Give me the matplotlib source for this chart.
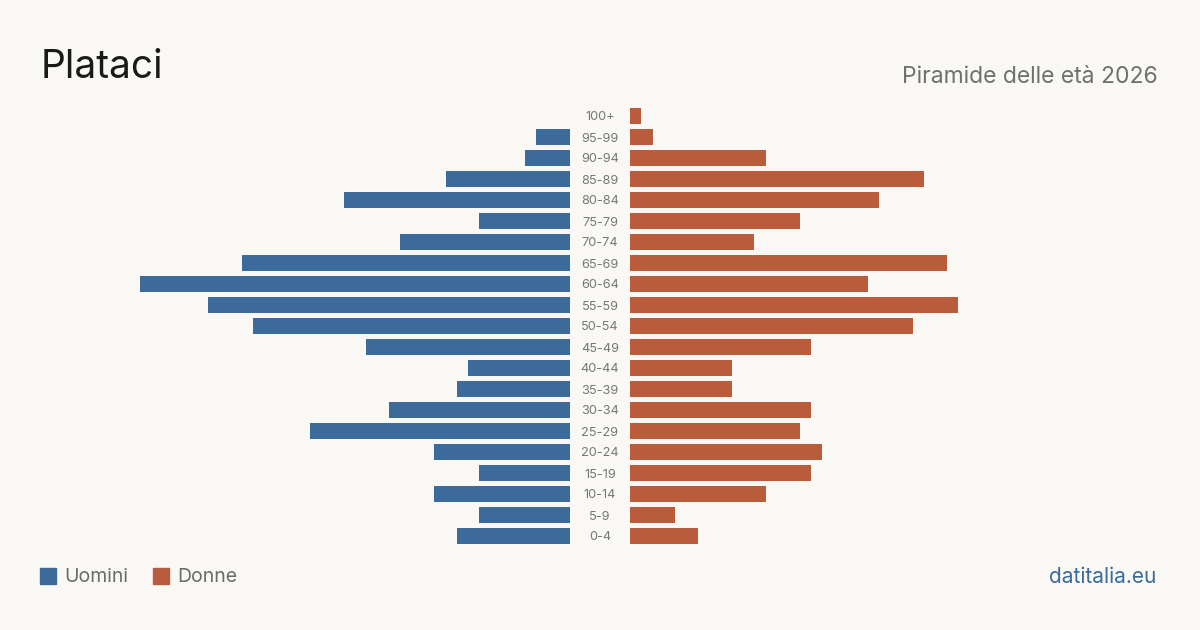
import matplotlib
matplotlib.use("Agg")
import matplotlib.pyplot as plt
from matplotlib.patches import Rectangle

plt.rcParams["font.family"] = ["Inter", "DejaVu Sans"]

# data: Plataci, population pyramid 2026
age_groups = ["0-4", "5-9", "10-14", "15-19", "20-24", "25-29", "30-34",
              "35-39", "40-44", "45-49", "50-54", "55-59", "60-64", "65-69",
              "70-74", "75-79", "80-84", "85-89", "90-94", "95-99", "100+"]
men = [10, 8, 12, 8, 12, 23, 16, 10, 9, 18, 28, 32, 38, 29, 15, 8, 20, 11, 4, 3, 0]
women = [6, 4, 12, 16, 17, 15, 16, 9, 9, 16, 25, 29, 21, 28, 11, 15, 22, 26, 12, 2, 1]

BLUE = "#3b6a9b"
ORANGE = "#b95c3c"
BG = "#f9f8f4"
W, H = 1200, 630

fig = plt.figure(figsize=(12, 6.3), dpi=100, facecolor=BG)

scale = 430 / 38.0          # pixels per person
xmax = 38
top, bottom = 105.5, 546.5  # pixel rows of the bar area


def px_axes(x0, x1):
    return fig.add_axes([x0 / W, 1 - bottom / H, (x1 - x0) / W, (bottom - top) / H])


ax_l = px_axes(570 - xmax * scale, 570)
ax_r = px_axes(630, 630 + xmax * scale)

y = range(len(age_groups))
ax_l.barh(y, men, height=0.8, color=BLUE)
ax_r.barh(y, women, height=0.8, color=ORANGE)
ax_l.set_xlim(xmax, 0)
ax_r.set_xlim(0, xmax)
for ax in (ax_l, ax_r):
    ax.set_ylim(-0.5, len(age_groups) - 0.5)
    ax.axis("off")

# age labels in the gap
for i, lab in enumerate(age_groups):
    yc = bottom - (i + 0.5) * (bottom - top) / len(age_groups) + 1.5
    fig.text(600 / W, 1 - yc / H, lab, ha="center", va="center",
             fontsize=9.2, color="#777777")

fig.text(41 / W, 1 - 67 / H, "Plataci", fontsize=28, color="#1a1a1a",
         ha="left", va="center")
fig.text(1158 / W, 1 - 77 / H, "Piramide delle età 2026", fontsize=16.5,
         color="#707070", ha="right", va="center")

# legend
for x0, col, lab in [(40, BLUE, "Uomini"), (153, ORANGE, "Donne")]:
    fig.patches.append(Rectangle((x0 / W, 1 - 584 / H), 16 / W, 16 / H,
                                 transform=fig.transFigure, color=col))
    fig.text((x0 + 24) / W, 1 - 577 / H, lab, fontsize=14, color="#6b6b6b",
             ha="left", va="center")

fig.text(1156 / W, 1 - 577 / H, "datitalia.eu", fontsize=15, color=BLUE,
         ha="right", va="center")

fig.savefig("out.png", dpi=100, facecolor=BG)
